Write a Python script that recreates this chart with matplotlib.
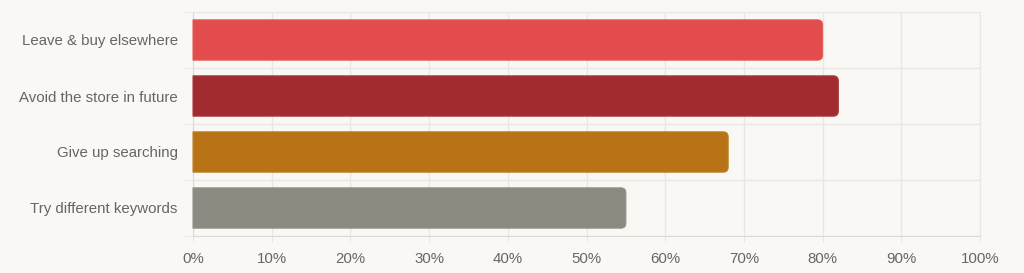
import matplotlib.pyplot as plt
from matplotlib.path import Path
from matplotlib.patches import PathPatch
from matplotlib.transforms import IdentityTransform

plt.rcParams['font.family'] = ['Liberation Sans', 'DejaVu Sans']

categories = ['Leave & buy elsewhere', 'Avoid the store in future',
              'Give up searching', 'Try different keywords']
values = [80, 82, 68, 55]
colors = ['#e34c4c', '#a12b2e', '#b87316', '#8a8a80']
edges = ['#e75c5c', '#aa3c3e', '#c08025', '#939389']
xticks = list(range(0, 101, 10))

bg = '#f9f8f5'
grid_c = '#e9e7e3'
axis_c = '#dcdad6'
text_c = '#666666'

fig = plt.figure(figsize=(10.24, 2.73), dpi=100, facecolor=bg)
ax = fig.add_axes([193 / 1024, 1 - 236 / 273, 787 / 1024, 224 / 273])
ax.set_facecolor(bg)

ypos = list(range(len(categories)))
bars = ax.barh(ypos, values, height=0.72, color=colors)
ax.set_xlim(0, 100)
ax.set_ylim(len(categories) - 0.5, -0.5)

ax.set_xticks(xticks)
ax.set_xticklabels([f'{t}%' for t in xticks])
ax.set_yticks(ypos)
ax.set_yticklabels(categories)
ax.set_yticks([i - 0.5 for i in range(len(categories) + 1)], minor=True)

ax.tick_params(axis='x', length=4, color=grid_c, pad=7.5, labelsize=10.8, labelcolor=text_c)
ax.tick_params(axis='y', which='major', length=0, pad=11, labelsize=10.8, labelcolor=text_c)
ax.tick_params(axis='y', which='minor', length=7, color=grid_c)

ax.grid(axis='x', color=grid_c, linewidth=1)
ax.grid(axis='y', which='minor', color=grid_c, linewidth=1)
ax.set_axisbelow(True)

for side in ['top', 'right']:
    ax.spines[side].set_color(grid_c)
for side in ['left', 'bottom']:
    ax.spines[side].set_color(axis_c)
ax.spines['left'].set_zorder(3)

# rounded right-hand corners, drawn in pixel space from the bar extents
r = 5
for rect, fc, ec in zip(bars, colors, edges):
    bb = rect.get_window_extent()
    x0, y0, x1, y1 = bb.x0, bb.y0, bb.x1, bb.y1
    verts = [(x0, y0), (x1 - r, y0), (x1, y0), (x1, y0 + r),
             (x1, y1 - r), (x1, y1), (x1 - r, y1), (x0, y1), (x0, y0)]
    codes = [Path.MOVETO, Path.LINETO, Path.CURVE3, Path.CURVE3,
             Path.LINETO, Path.CURVE3, Path.CURVE3, Path.LINETO, Path.CLOSEPOLY]
    patch = PathPatch(Path(verts, codes), facecolor=fc, edgecolor=ec,
                      linewidth=0.8, transform=IdentityTransform(), zorder=2)
    fig.add_artist(patch)
    rect.set_visible(False)

fig.savefig('out.png', dpi=100, facecolor=bg)
